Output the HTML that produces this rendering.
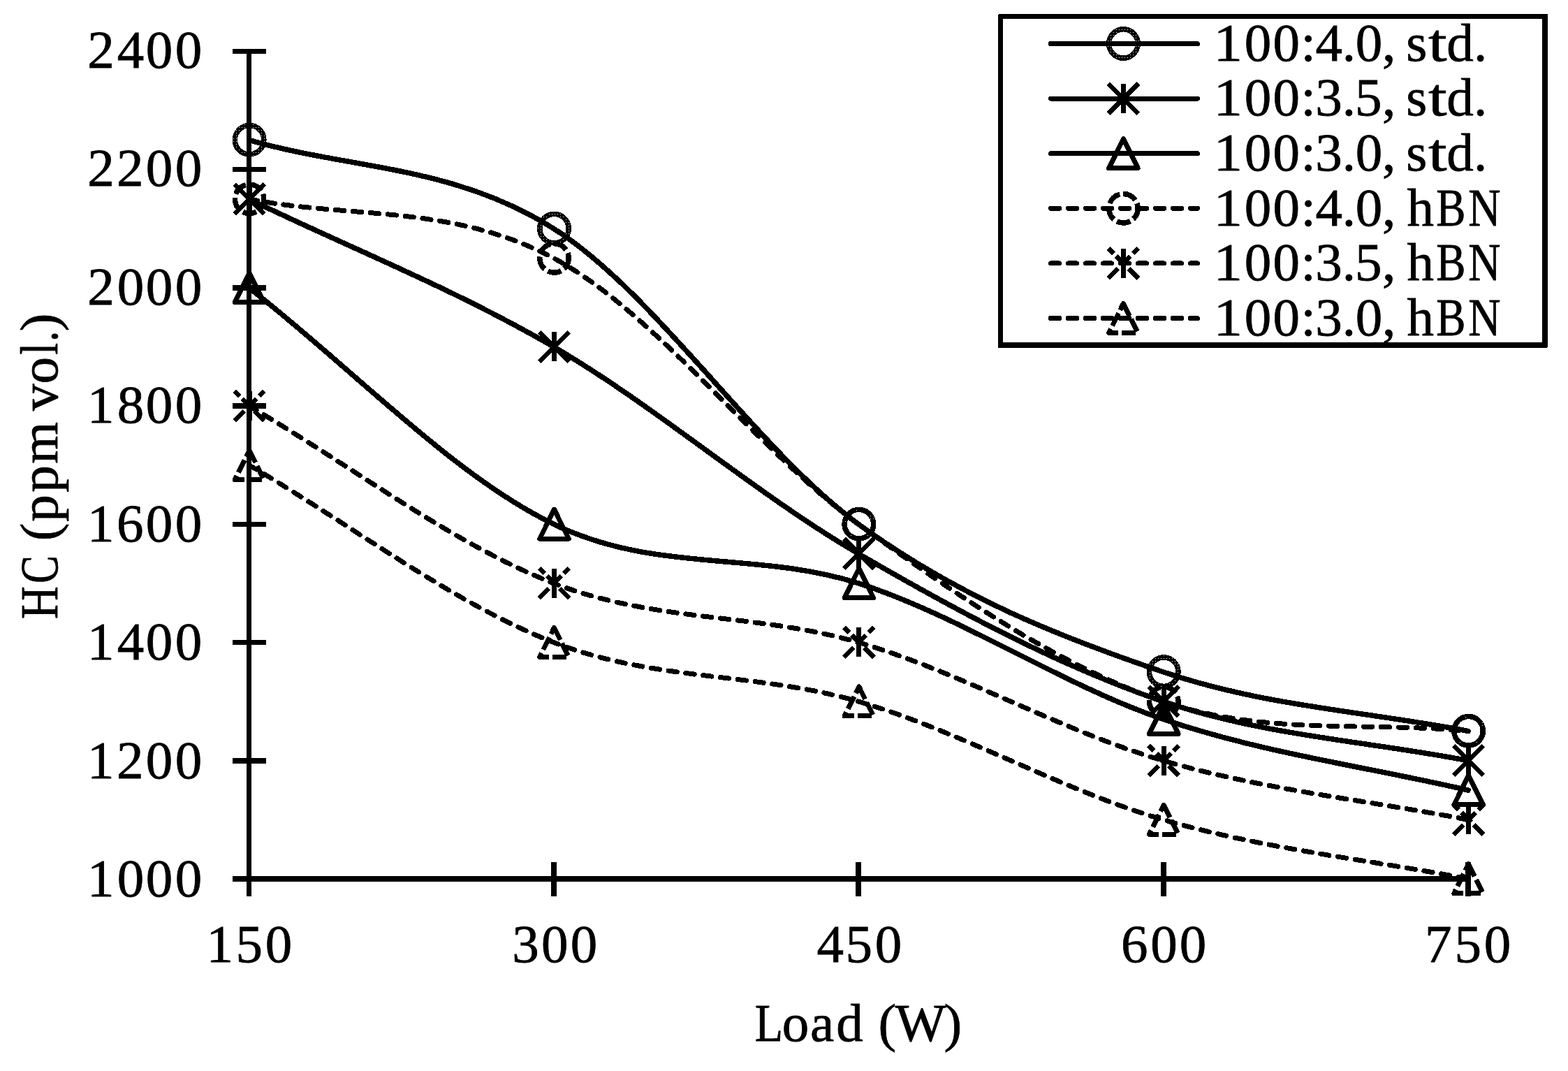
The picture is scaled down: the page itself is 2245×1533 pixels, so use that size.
<!DOCTYPE html>
<html lang="en"><head><meta charset="utf-8"><title>HC (ppm vol.) vs Load (W)</title>
<style>html,body{margin:0;padding:0;background:#fff;}body{width:2245px;height:1533px;overflow:hidden;}svg{display:block;}text{font-family:"Liberation Serif",serif;font-size:77px;fill:#000;stroke:#000;stroke-width:0.8px;white-space:pre;}</style></head><body>
<svg width="2245" height="1533" viewBox="0 0 2245 1533" role="img" aria-label="HC (ppm vol.) versus Load (W)">
<defs><pattern id="dz" x="0" y="0" width="4" height="4" patternUnits="userSpaceOnUse"><rect x="2" y="2" width="1" height="1" fill="#fff"/></pattern></defs>
<rect width="2245" height="1533" fill="#fff"/>
<g shape-rendering="crispEdges">
<circle cx="357.10" cy="200.21" r="20.75" fill="none" stroke="#000" stroke-width="7.5"/><circle cx="357.10" cy="200.21" r="20.75" fill="none" stroke="url(#dz)" stroke-width="5"/>
<circle cx="793.48" cy="327.12" r="20.75" fill="none" stroke="#000" stroke-width="7.5"/><circle cx="793.48" cy="327.12" r="20.75" fill="none" stroke="url(#dz)" stroke-width="5"/>
<circle cx="1229.85" cy="750.16" r="20.75" fill="none" stroke="#000" stroke-width="7.5"/><circle cx="1229.85" cy="750.16" r="20.75" fill="none" stroke="url(#dz)" stroke-width="5"/>
<circle cx="1666.22" cy="961.67" r="20.75" fill="none" stroke="#000" stroke-width="7.5"/><circle cx="1666.22" cy="961.67" r="20.75" fill="none" stroke="url(#dz)" stroke-width="5"/>
<circle cx="2102.60" cy="1046.28" r="20.75" fill="none" stroke="#000" stroke-width="7.5"/><circle cx="2102.60" cy="1046.28" r="20.75" fill="none" stroke="url(#dz)" stroke-width="5"/>
<path d="M335.70,306.22 L378.50,263.42 M378.50,306.22 L335.70,263.42" fill="none" stroke="#000" stroke-width="6.6"/><path d="M357.10,305.82 L357.10,263.82" fill="none" stroke="#000" stroke-width="7"/>
<path d="M772.08,517.74 L814.88,474.94 M814.88,517.74 L772.08,474.94" fill="none" stroke="#000" stroke-width="6.6"/><path d="M793.48,517.34 L793.48,475.34" fill="none" stroke="#000" stroke-width="7"/>
<path d="M1208.45,813.86 L1251.25,771.06 M1251.25,813.86 L1208.45,771.06" fill="none" stroke="#000" stroke-width="6.6"/><path d="M1229.85,813.46 L1229.85,771.46" fill="none" stroke="#000" stroke-width="7"/>
<path d="M1644.82,1025.38 L1687.62,982.58 M1687.62,1025.38 L1644.82,982.58" fill="none" stroke="#000" stroke-width="6.6"/><path d="M1666.22,1024.98 L1666.22,982.98" fill="none" stroke="#000" stroke-width="7"/>
<path d="M2081.20,1109.99 L2124.00,1067.19 M2124.00,1109.99 L2081.20,1067.19" fill="none" stroke="#000" stroke-width="6.6"/><path d="M2102.60,1109.59 L2102.60,1067.59" fill="none" stroke="#000" stroke-width="7"/>
<path d="M357.10,390.73 L377.90,432.73 L336.30,432.73 Z" fill="none" stroke="#000" stroke-width="7" stroke-linejoin="round"/>
<path d="M793.48,729.16 L814.27,771.16 L772.68,771.16 Z" fill="none" stroke="#000" stroke-width="7" stroke-linejoin="round"/>
<path d="M1229.85,813.76 L1250.65,855.76 L1209.05,855.76 Z" fill="none" stroke="#000" stroke-width="7" stroke-linejoin="round"/>
<path d="M1666.22,1008.36 L1687.02,1050.36 L1645.42,1050.36 Z" fill="none" stroke="#000" stroke-width="7" stroke-linejoin="round"/>
<path d="M2102.60,1109.89 L2123.40,1151.89 L2081.80,1151.89 Z" fill="none" stroke="#000" stroke-width="7" stroke-linejoin="round"/>
<circle cx="357.10" cy="284.82" r="20.75" fill="none" stroke="#000" stroke-width="7.5" stroke-dasharray="19.75 5.25" transform="rotate(-8 357.10 284.82)"/>
<circle cx="793.48" cy="369.43" r="20.75" fill="none" stroke="#000" stroke-width="7.5" stroke-dasharray="19.75 5.25" transform="rotate(-8 793.48 369.43)"/>
<circle cx="1229.85" cy="750.16" r="20.75" fill="none" stroke="#000" stroke-width="7.5" stroke-dasharray="19.75 5.25" transform="rotate(-8 1229.85 750.16)"/>
<circle cx="1666.22" cy="1003.98" r="20.75" fill="none" stroke="#000" stroke-width="7.5" stroke-dasharray="19.75 5.25" transform="rotate(-8 1666.22 1003.98)"/>
<circle cx="2102.60" cy="1046.28" r="20.75" fill="none" stroke="#000" stroke-width="7.5" stroke-dasharray="19.75 5.25" transform="rotate(-8 2102.60 1046.28)"/>
<path d="M335.70,602.34 L378.50,559.54 M378.50,602.34 L335.70,559.54" fill="none" stroke="#000" stroke-width="6.6" stroke-dasharray="19.75 5.25"/><path d="M357.10,601.94 L357.10,559.94" fill="none" stroke="#000" stroke-width="7" stroke-dasharray="19.75 5.25"/>
<path d="M772.08,856.16 L814.88,813.36 M814.88,856.16 L772.08,813.36" fill="none" stroke="#000" stroke-width="6.6" stroke-dasharray="19.75 5.25"/><path d="M793.48,855.76 L793.48,813.76" fill="none" stroke="#000" stroke-width="7" stroke-dasharray="19.75 5.25"/>
<path d="M1208.45,940.77 L1251.25,897.97 M1251.25,940.77 L1208.45,897.97" fill="none" stroke="#000" stroke-width="6.6" stroke-dasharray="19.75 5.25"/><path d="M1229.85,940.37 L1229.85,898.37" fill="none" stroke="#000" stroke-width="7" stroke-dasharray="19.75 5.25"/>
<path d="M1644.82,1109.99 L1687.62,1067.19 M1687.62,1109.99 L1644.82,1067.19" fill="none" stroke="#000" stroke-width="6.6" stroke-dasharray="19.75 5.25"/><path d="M1666.22,1109.59 L1666.22,1067.59" fill="none" stroke="#000" stroke-width="7" stroke-dasharray="19.75 5.25"/>
<path d="M2081.20,1194.59 L2124.00,1151.79 M2124.00,1194.59 L2081.20,1151.79" fill="none" stroke="#000" stroke-width="6.6" stroke-dasharray="19.75 5.25"/><path d="M2102.60,1194.19 L2102.60,1152.19" fill="none" stroke="#000" stroke-width="7" stroke-dasharray="19.75 5.25"/>
<path d="M357.10,644.55 L377.90,686.55 L336.30,686.55 Z" fill="none" stroke="#000" stroke-width="7" stroke-linejoin="round" stroke-dasharray="19.75 5.25"/>
<path d="M793.48,898.37 L814.27,940.37 L772.68,940.37 Z" fill="none" stroke="#000" stroke-width="7" stroke-linejoin="round" stroke-dasharray="19.75 5.25"/>
<path d="M1229.85,982.98 L1250.65,1024.98 L1209.05,1024.98 Z" fill="none" stroke="#000" stroke-width="7" stroke-linejoin="round" stroke-dasharray="19.75 5.25"/>
<path d="M1666.22,1152.19 L1687.02,1194.19 L1645.42,1194.19 Z" fill="none" stroke="#000" stroke-width="7" stroke-linejoin="round" stroke-dasharray="19.75 5.25"/>
<path d="M2102.60,1236.80 L2123.40,1278.80 L2081.80,1278.80 Z" fill="none" stroke="#000" stroke-width="7" stroke-linejoin="round" stroke-dasharray="19.75 5.25"/>
<path d="M356.50,200.41 C501.96,242.71 647.42,235.66 792.88,327.32 C938.33,418.98 1083.79,644.60 1229.25,750.36 C1374.71,856.12 1520.17,912.52 1665.62,961.88 C1811.08,1011.23 1956.54,1018.28 2102.00,1046.48" fill="none" stroke="#000" stroke-linecap="round" stroke-linejoin="round" stroke-width="7.5"/>
<path d="M356.50,285.02 C501.96,355.52 647.42,411.93 792.88,496.54 C938.33,581.14 1083.79,708.05 1229.25,792.66 C1374.71,877.27 1520.17,954.82 1665.62,1004.18 C1811.08,1053.53 1956.54,1060.58 2102.00,1088.79" fill="none" stroke="#000" stroke-linecap="round" stroke-linejoin="round" stroke-width="7.5"/>
<path d="M356.50,411.93 C501.96,524.74 647.42,679.85 792.88,750.36 C938.33,820.86 1083.79,788.43 1229.25,834.96 C1374.71,881.50 1520.17,980.21 1665.62,1029.56 C1811.08,1078.91 1956.54,1097.25 2102.00,1131.09" fill="none" stroke="#000" stroke-linecap="round" stroke-linejoin="round" stroke-width="7.5"/>
<path d="M356.50,285.02 C501.96,313.22 647.42,292.07 792.88,369.62 C938.33,447.18 1083.79,644.60 1229.25,750.36 C1374.71,856.12 1520.17,954.82 1665.62,1004.18 C1811.08,1053.53 1956.54,1032.38 2102.00,1046.48" fill="none" stroke="#000" stroke-linecap="round" stroke-linejoin="round" stroke-width="7" stroke-dasharray="12.3 12.7"/>
<path d="M356.50,581.14 C501.96,665.75 647.42,778.56 792.88,834.96 C938.33,891.37 1083.79,877.27 1229.25,919.57 C1374.71,961.88 1520.17,1046.48 1665.62,1088.79 C1811.08,1131.09 1956.54,1145.19 2102.00,1173.39" fill="none" stroke="#000" stroke-linecap="round" stroke-linejoin="round" stroke-width="7" stroke-dasharray="12.3 12.7"/>
<path d="M356.50,665.75 C501.96,750.36 647.42,863.17 792.88,919.57 C938.33,975.98 1083.79,961.88 1229.25,1004.18 C1374.71,1046.48 1520.17,1131.09 1665.62,1173.39 C1811.08,1215.70 1956.54,1229.80 2102.00,1258.00" fill="none" stroke="#000" stroke-linecap="round" stroke-linejoin="round" stroke-width="7" stroke-dasharray="12.3 12.7"/>
<rect x="353" y="70" width="7" height="1213" fill="#000"/>
<rect x="333" y="1254" width="1773" height="8" fill="#000"/>
<rect x="333" y="70" width="48" height="7" fill="#000"/>
<rect x="333" y="239" width="48" height="7" fill="#000"/>
<rect x="333" y="408" width="48" height="8" fill="#000"/>
<rect x="333" y="577" width="48" height="8" fill="#000"/>
<rect x="333" y="747" width="48" height="7" fill="#000"/>
<rect x="333" y="916" width="48" height="7" fill="#000"/>
<rect x="333" y="1085" width="48" height="8" fill="#000"/>
<rect x="789" y="1234" width="8" height="49" fill="#000"/>
<rect x="1225" y="1234" width="8" height="49" fill="#000"/>
<rect x="1662" y="1234" width="8" height="49" fill="#000"/>
<rect x="2098" y="1234" width="8" height="49" fill="#000"/>
<path fill-rule="evenodd" fill="#000" d="M1431,20 H2214 Q2216,20 2216,22 V496 Q2216,498 2214,498 H1431 Q1429,498 1429,496 V22 Q1429,20 1431,20 Z M1436,27 V490 H2208 V27 Z"/>
<circle cx="1608.40" cy="62.50" r="20.75" fill="none" stroke="#000" stroke-width="7.5"/><circle cx="1608.40" cy="62.50" r="20.75" fill="none" stroke="url(#dz)" stroke-width="5"/>
<path d="M1587.00,162.50 L1629.80,119.70 M1629.80,162.50 L1587.00,119.70" fill="none" stroke="#000" stroke-width="6.6"/><path d="M1608.40,162.10 L1608.40,120.10" fill="none" stroke="#000" stroke-width="7"/>
<path d="M1608.40,198.70 L1629.20,240.70 L1587.60,240.70 Z" fill="none" stroke="#000" stroke-width="7" stroke-linejoin="round"/>
<circle cx="1608.40" cy="298.30" r="20.75" fill="none" stroke="#000" stroke-width="7.5" stroke-dasharray="19.75 5.25" transform="rotate(-8 1608.40 298.30)"/>
<path d="M1587.00,398.30 L1629.80,355.50 M1629.80,398.30 L1587.00,355.50" fill="none" stroke="#000" stroke-width="6.6" stroke-dasharray="19.75 5.25"/><path d="M1608.40,397.90 L1608.40,355.90" fill="none" stroke="#000" stroke-width="7" stroke-dasharray="19.75 5.25"/>
<path d="M1608.40,434.50 L1629.20,476.50 L1587.60,476.50 Z" fill="none" stroke="#000" stroke-width="7" stroke-linejoin="round" stroke-dasharray="19.75 5.25"/>
<path d="M1504.4,62.50 L1714.5,62.50" fill="none" stroke="#000" stroke-linecap="round" stroke-width="7"/>
<path d="M1504.4,141.10 L1714.5,141.10" fill="none" stroke="#000" stroke-linecap="round" stroke-width="7"/>
<path d="M1504.4,219.70 L1714.5,219.70" fill="none" stroke="#000" stroke-linecap="round" stroke-width="7"/>
<path d="M1504.4,298.30 L1714.5,298.30" fill="none" stroke="#000" stroke-linecap="round" stroke-width="7" stroke-dasharray="12.3 12.7"/>
<path d="M1504.4,376.90 L1714.5,376.90" fill="none" stroke="#000" stroke-linecap="round" stroke-width="7" stroke-dasharray="12.3 12.7"/>
<path d="M1504.4,455.50 L1714.5,455.50" fill="none" stroke="#000" stroke-linecap="round" stroke-width="7" stroke-dasharray="12.3 12.7"/>
</g>
<g>
<text y="96.8"><tspan x="125.3 167.7 208.8 250.8">2400</tspan></text>
<text y="266.2"><tspan x="125.3 166.9 208.8 250.8">2200</tspan></text>
<text y="435.7"><tspan x="125.3 167.7 208.8 250.8">2000</tspan></text>
<text y="605.1"><tspan x="125.1 167.7 208.8 250.8">1800</tspan></text>
<text y="774.6"><tspan x="125.1 167.1 208.8 250.8">1600</tspan></text>
<text y="944.0"><tspan x="125.1 167.7 208.8 250.8">1400</tspan></text>
<text y="1113.5"><tspan x="125.1 166.9 208.8 250.8">1200</tspan></text>
<text y="1282.9"><tspan x="125.1 167.7 208.8 250.8">1000</tspan></text>
<text y="1377.2"><tspan x="295.6 337.4 379.8">150</tspan></text>
<text y="1377.2"><tspan x="733.2 775.1 816.8">300</tspan></text>
<text y="1377.2"><tspan x="1169.6 1210.4 1252.8">450</tspan></text>
<text y="1377.2"><tspan x="1605.0 1647.2 1688.8">600</tspan></text>
<text y="1377.2"><tspan x="2040.1 2082.4 2124.8">750</tspan></text>
<text y="86.8"><tspan x="1737.6" textLength="41.5" lengthAdjust="spacingAndGlyphs">1</tspan><tspan x="1781.7 1822.6 1862.4 1883.5 1921.8 1940.7 1978.9 1998.2 2013.3">00:4.0, s</tspan><tspan x="2045.0" textLength="26.6" lengthAdjust="spacingAndGlyphs">t</tspan><tspan x="2071.3 2109.9">d.</tspan></text>
<text y="165.4"><tspan x="1737.6" textLength="41.5" lengthAdjust="spacingAndGlyphs">1</tspan><tspan x="1781.7 1822.6 1862.4 1883.3 1921.8 1939.9 1978.9 1998.2 2013.3">00:3.5, s</tspan><tspan x="2045.0" textLength="26.6" lengthAdjust="spacingAndGlyphs">t</tspan><tspan x="2071.3 2109.9">d.</tspan></text>
<text y="244.0"><tspan x="1737.6" textLength="41.5" lengthAdjust="spacingAndGlyphs">1</tspan><tspan x="1781.7 1822.6 1862.4 1883.3 1921.8 1940.7 1978.9 1998.2 2013.3">00:3.0, s</tspan><tspan x="2045.0" textLength="26.6" lengthAdjust="spacingAndGlyphs">t</tspan><tspan x="2071.3 2109.9">d.</tspan></text>
<text y="322.6"><tspan x="1737.6" textLength="41.5" lengthAdjust="spacingAndGlyphs">1</tspan><tspan x="1781.7 1822.6 1862.4 1883.5 1921.8 1940.7 1978.9 1998.2 2014.4">00:4.0, h</tspan><tspan x="2056.2" textLength="42.2" lengthAdjust="spacingAndGlyphs">B</tspan><tspan x="2102.3" textLength="46.2" lengthAdjust="spacingAndGlyphs">N</tspan></text>
<text y="401.2"><tspan x="1737.6" textLength="41.5" lengthAdjust="spacingAndGlyphs">1</tspan><tspan x="1781.7 1822.6 1862.4 1883.3 1921.8 1939.9 1978.9 1998.2 2014.4">00:3.5, h</tspan><tspan x="2056.2" textLength="42.2" lengthAdjust="spacingAndGlyphs">B</tspan><tspan x="2102.3" textLength="46.2" lengthAdjust="spacingAndGlyphs">N</tspan></text>
<text y="479.8"><tspan x="1737.6" textLength="41.5" lengthAdjust="spacingAndGlyphs">1</tspan><tspan x="1781.7 1822.6 1862.4 1883.3 1921.8 1940.7 1978.9 1998.2 2014.4">00:3.0, h</tspan><tspan x="2056.2" textLength="42.2" lengthAdjust="spacingAndGlyphs">B</tspan><tspan x="2102.3" textLength="46.2" lengthAdjust="spacingAndGlyphs">N</tspan></text>
<text y="1489.7"><tspan x="1080.8" textLength="40.4" lengthAdjust="spacingAndGlyphs">L</tspan><tspan x="1119.7 1160.0 1197.2 1235.7 1257.6 1281.7 1351.6">oad (W)</tspan></text>
<text y="82.1" transform="rotate(-90)"><tspan x="-886.0" textLength="46.9" lengthAdjust="spacingAndGlyphs">H</tspan><tspan x="-835.0" textLength="39.7" lengthAdjust="spacingAndGlyphs">C</tspan><tspan x="-795.3 -774.2 -746.7 -704.7 -663.7 -603.8 -588.0 -549.4"> (ppm vo</tspan><tspan x="-507.8" textLength="16.8" lengthAdjust="spacingAndGlyphs">l</tspan><tspan x="-489.1" textLength="15.2" lengthAdjust="spacingAndGlyphs">.</tspan><tspan x="-474.3">)</tspan></text>
</g>
</svg></body></html>
